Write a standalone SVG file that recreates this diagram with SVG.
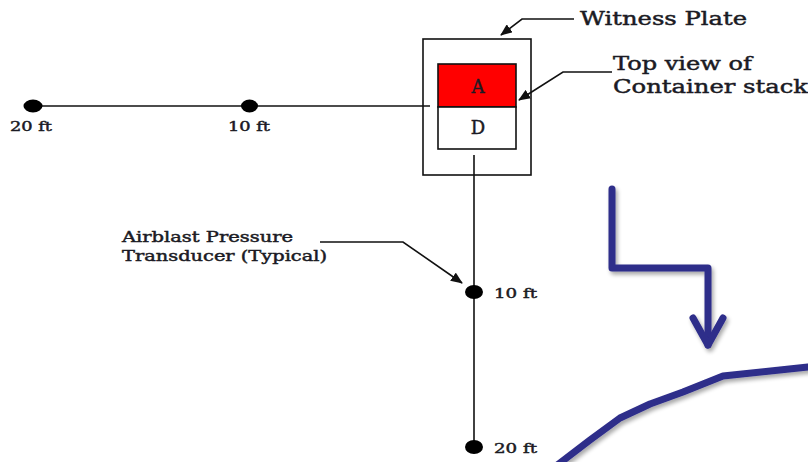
<svg xmlns="http://www.w3.org/2000/svg" width="808" height="462" viewBox="0 0 808 462">
<style>
.t{font-family:"DejaVu Serif","Liberation Serif",serif;fill:#1b1b24;stroke:#1b1b24;stroke-width:0.45}
.ln{stroke:#111;stroke-width:1.6;fill:none}
.bl{stroke:#2e2d8a;stroke-width:7;fill:none;stroke-linejoin:round;stroke-linecap:round}
.dot{fill:#000}
</style>
<defs>
<marker id="ah" viewBox="0 0 12 10" refX="11" refY="5" markerWidth="12" markerHeight="10" markerUnits="userSpaceOnUse" orient="auto">
<path d="M0,0 L12,5 L0,10 Z" fill="#111"/>
</marker>
<filter id="sh" x="-10%" y="-10%" width="130%" height="130%">
<feGaussianBlur in="SourceAlpha" stdDeviation="2"/>
<feOffset dx="2" dy="3"/>
<feComponentTransfer><feFuncA type="linear" slope="0.35"/></feComponentTransfer>
<feMerge><feMergeNode/><feMergeNode in="SourceGraphic"/></feMerge>
</filter>
</defs>
<rect width="808" height="462" fill="#fff"/>
<g id="connectors">
<line class="ln" x1="32" y1="106" x2="430" y2="106"/>
<line class="ln" x1="474" y1="155" x2="474" y2="447"/>
<polyline class="ln" points="574,19 522,19 501,35" marker-end="url(#ah)"/>
<polyline class="ln" points="612,72 563,72 519,100" marker-end="url(#ah)"/>
<polyline class="ln" points="320,242 403,242 462,283" marker-end="url(#ah)"/>
</g>
<g id="witness-plate">
<rect x="423" y="39" width="108" height="136" fill="none" stroke="#111" stroke-width="1.6"/>
</g>
<g id="container-A">
<rect x="438" y="64" width="78" height="43" fill="#ff0000" stroke="#111" stroke-width="1.6"/>
<text class="t" x="478" y="93" font-size="18" text-anchor="middle">A</text>
</g>
<g id="container-D">
<rect x="438" y="107" width="78" height="42" fill="#fff" stroke="#111" stroke-width="1.6"/>
<text class="t" x="478" y="134" font-size="18" text-anchor="middle">D</text>
</g>
<g id="sensor-h20">
<ellipse class="dot" cx="33" cy="106" rx="9.5" ry="6.5"/>
<text class="t" x="10" y="131" font-size="13" textLength="42" lengthAdjust="spacingAndGlyphs">20 ft</text>
</g>
<g id="sensor-h10">
<ellipse class="dot" cx="249.5" cy="106" rx="8.5" ry="6.5"/>
<text class="t" x="228" y="131" font-size="13" textLength="42" lengthAdjust="spacingAndGlyphs">10 ft</text>
</g>
<g id="sensor-v10">
<ellipse class="dot" cx="474" cy="292" rx="9" ry="7"/>
<text class="t" x="494" y="298" font-size="13" textLength="43" lengthAdjust="spacingAndGlyphs">10 ft</text>
</g>
<g id="sensor-v20">
<ellipse class="dot" cx="474" cy="447" rx="9" ry="7"/>
<text class="t" x="494" y="453" font-size="13" textLength="43" lengthAdjust="spacingAndGlyphs">20 ft</text>
</g>
<g id="label-witness">
<text class="t" x="580" y="25" font-size="18" textLength="167" lengthAdjust="spacingAndGlyphs">Witness Plate</text>
</g>
<g id="label-topview">
<text class="t" x="613" y="70" font-size="18" textLength="139" lengthAdjust="spacingAndGlyphs">Top view of</text>
<text class="t" x="613" y="93" font-size="18" textLength="195" lengthAdjust="spacingAndGlyphs">Container stack</text>
</g>
<g id="label-airblast">
<text class="t" x="122" y="242" font-size="14" textLength="171" lengthAdjust="spacingAndGlyphs">Airblast Pressure</text>
<text class="t" x="122" y="261" font-size="14" textLength="205" lengthAdjust="spacingAndGlyphs">Transducer (Typical)</text>
</g>
<g id="blue-arrow" filter="url(#sh)">
<polyline class="bl" points="612,189 612,268 708,268 708,345"/>
<polyline class="bl" points="693,318 708,345 723,318"/>
</g>
<g id="blue-curve" filter="url(#sh)">
<polyline class="bl" points="556,466 590,440 620,418 650,404 683,392 723,376 808,367"/>
</g>
</svg>
